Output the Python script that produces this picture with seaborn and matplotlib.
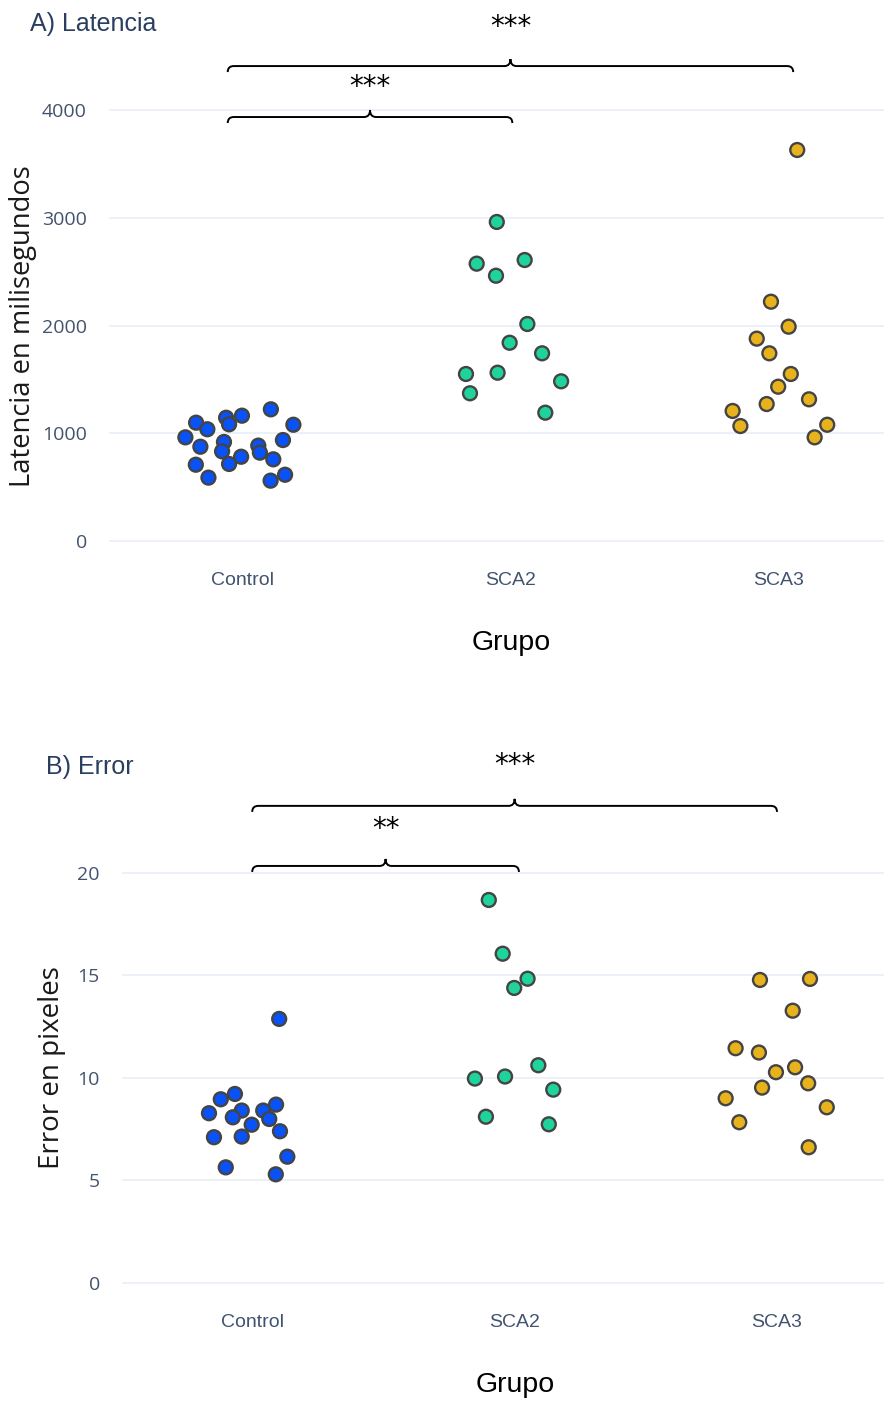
import matplotlib
matplotlib.use("Agg")
import numpy as np
import pandas as pd
import seaborn as sns
import matplotlib.pyplot as plt
from matplotlib.path import Path
from matplotlib.patches import PathPatch

# ---------------- data ----------------
groups = ["Control", "SCA2", "SCA3"]
colors = ["#0852f7", "#1fd49c", "#e8b21c"]

# Panel A: latency (ms)
lat_control = [1098, 1037, 1144, 1083, 1163, 1222, 1079, 962, 875, 919, 832,
               782, 715, 885, 820, 937, 758, 708, 588, 560, 615]
lat_control_jit = [-0.175, -0.133, -0.063, -0.052, -0.004, 0.104, 0.188, -0.215,
                   -0.159, -0.071, -0.078, -0.007, -0.052, 0.057, 0.063, 0.149,
                   0.113, -0.176, -0.129, 0.103, 0.157]
lat_sca2 = [2961, 2574, 2462, 2608, 2014, 1840, 1742, 1550, 1562, 1482, 1371, 1191]
lat_sca2_jit = [-0.053, -0.128, -0.056, 0.051, 0.061, -0.005, 0.116, -0.168,
                -0.050, 0.187, -0.153, 0.128]
lat_sca3 = [3629, 2221, 1989, 1878, 1742, 1550, 1432, 1271, 1315, 1207, 1067, 1079, 962]
lat_sca3_jit = [0.068, -0.030, 0.036, -0.083, -0.036, 0.044, -0.003, -0.046,
                0.112, -0.173, -0.144, 0.180, 0.133]

# Panel B: error (pixels)
err_control = [12.88, 9.22, 8.96, 8.28, 8.41, 8.08, 8.41, 8.00, 8.70, 7.72,
               7.40, 7.11, 7.14, 6.16, 5.64, 5.30]
err_control_jit = [0.100, -0.069, -0.123, -0.168, -0.043, -0.077, 0.039, 0.062,
                   0.088, -0.005, 0.103, -0.149, -0.043, 0.131, -0.104, 0.087]
err_sca2 = [18.68, 16.06, 14.84, 14.39, 10.62, 9.97, 10.07, 9.43, 8.11, 7.74]
err_sca2_jit = [-0.100, -0.047, 0.048, -0.003, 0.089, -0.153, -0.038, 0.146,
                -0.111, 0.129]
err_sca3 = [14.78, 14.83, 13.28, 11.45, 11.24, 10.52, 10.28, 9.74, 9.53, 9.01,
            8.57, 7.84, 6.62]
err_sca3_jit = [-0.065, 0.126, 0.060, -0.158, -0.069, 0.069, -0.004, 0.119,
                -0.057, -0.196, 0.190, -0.144, 0.121]

lat_ticks = [0, 1000, 2000, 3000, 4000]
err_ticks = [0, 5, 10, 15, 20]

# significance brackets: (x_start, x_end, bracket level, label level, label)
lat_sig = [(-0.057, 1.005, 3935, 4214, "***"),
           (-0.057, 2.053, 4408, 4770, "***")]
err_sig = [(-0.003, 1.015, 20.34, 22.15, "**"),
           (-0.003, 2.000, 23.27, 25.27, "***")]

# ---------------- style ----------------
sns.set_style("white")
plt.rcParams["font.family"] = ["Open Sans", "DejaVu Sans"]

W, H = 884, 1405
fig = plt.figure(figsize=(W / 100, H / 100), dpi=100)

TITLE_C = "#2a3f5f"
TICK_C = "#42536f"
GRID_C = "#ebf0f8"
NARROW = ["Liberation Sans Narrow", "Liberation Sans", "DejaVu Sans"]


def make_df(vals, jits):
    rows = []
    for gi, (v, j) in enumerate(zip(vals, jits)):
        for a, b in zip(v, j):
            rows.append({"Grupo": groups[gi], "valor": a, "pos": gi + b})
    return pd.DataFrame(rows)


def brace(ax, x0, x1, y, ax_wpx, ax_hpx, hook_px=6, tip_px=7, curl_px=6):
    xl, yl = ax.get_xlim(), ax.get_ylim()
    dxp = (xl[1] - xl[0]) / ax_wpx
    dyp = (yl[1] - yl[0]) / ax_hpx
    xm = (x0 + x1) / 2
    h, t, c = hook_px * dyp, tip_px * dyp, curl_px * dxp
    verts = [(x0, y - h), (x0, y), (x0 + c, y), (xm - c, y), (xm, y), (xm, y + t),
             (xm, y), (xm + c, y), (x1 - c, y), (x1, y), (x1, y - h)]
    codes = [Path.MOVETO, Path.CURVE3, Path.CURVE3, Path.LINETO, Path.CURVE3,
             Path.CURVE3, Path.CURVE3, Path.CURVE3, Path.LINETO, Path.CURVE3,
             Path.CURVE3]
    ax.add_patch(PathPatch(Path(verts, codes), fill=False, lw=1.4,
                           edgecolor="black", clip_on=False, zorder=5))


def panel(left, top, width, bottom, ylim, df, ticks, sig, ylabel, ylab_size,
          ylab_xy, title, title_xy, xlab_y):
    ax = fig.add_axes([left / W, 1 - bottom / H, width / W, (bottom - top) / H])
    ax.set_xlim(-0.5, 2.5)
    ax.set_ylim(*ylim)
    sns.scatterplot(data=df, x="pos", y="valor", hue="Grupo", palette=colors,
                    hue_order=groups, s=100, edgecolor="#444444", linewidth=1.7,
                    legend=False, ax=ax, zorder=3)
    ax.set_yticks(ticks)
    ax.set_yticklabels([str(t) for t in ticks], color=TICK_C, fontsize=14)
    ax.set_xticks(range(len(groups)))
    ax.set_xticklabels(groups, color=TICK_C, fontsize=14, family=NARROW)
    ax.tick_params(axis="both", length=0)
    ax.tick_params(axis="y", pad=16)
    ax.tick_params(axis="x", pad=12)
    ax.grid(axis="y", color=GRID_C, lw=1.3)
    ax.grid(axis="x", visible=False)
    for s in ax.spines.values():
        s.set_visible(False)
    ax.set_ylabel(ylabel, fontsize=ylab_size, color="#1a1a1a", va="center")
    ax.yaxis.set_label_coords((ylab_xy[0] - left) / width,
                              (bottom - ylab_xy[1]) / (bottom - top))
    ax.set_xlabel("Grupo", fontsize=20.5, color="black", family=NARROW, va="center")
    ax.xaxis.set_label_coords(0.5, (bottom - xlab_y) / (bottom - top))
    for x0, x1, yb, yt, lab in sig:
        brace(ax, x0, x1, yb, width, bottom - top)
        ax.text((x0 + x1) / 2, yt, lab, ha="center", va="center", fontsize=20,
                color="black", family=["DejaVu Sans"], clip_on=False)
    fig.text(title_xy[0] / W, 1 - title_xy[1] / H, title, ha="left", va="center",
             fontsize=18, color=TITLE_C, family=["Liberation Sans", "DejaVu Sans"])
    return ax


df_lat = make_df([lat_control, lat_sca2, lat_sca3],
                 [lat_control_jit, lat_sca2_jit, lat_sca3_jit])
df_err = make_df([err_control, err_sca2, err_sca3],
                 [err_control_jit, err_sca2_jit, err_sca3_jit])

panel(109, 100, 804, 555, (-130, 4093), df_lat, lat_ticks, lat_sig,
      "Latencia en milisegundos", 19.7, (23, 326), "A) Latencia", (30, 24), 643)
panel(122, 860, 786, 1297, (-0.683, 20.63), df_err, err_ticks, err_sig,
      "Error en pixeles", 20, (52, 1068), "B) Error", (46, 767), 1385)

fig.savefig("out.png", dpi=100)
